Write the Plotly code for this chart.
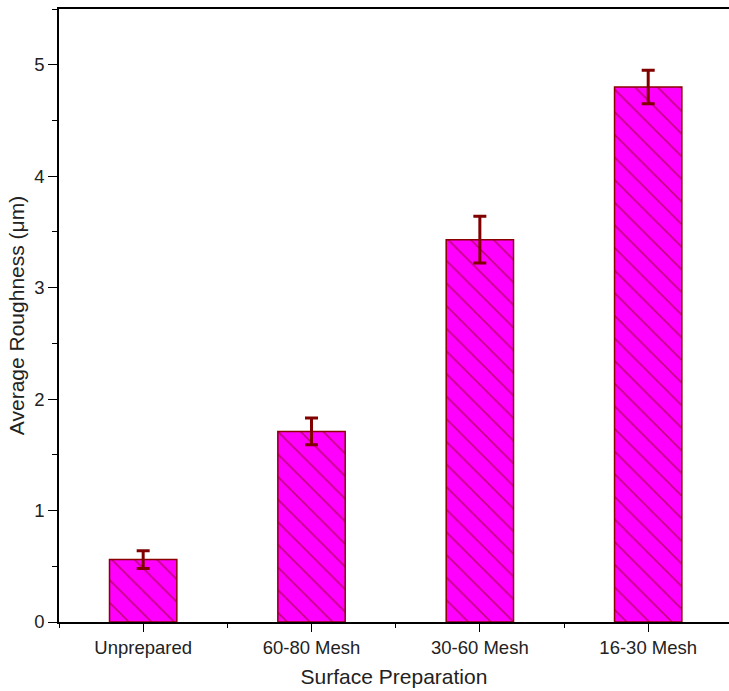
import plotly.graph_objects as go

categories = ["Unprepared", "60-80 Mesh", "30-60 Mesh", "16-30 Mesh"]
roughness = [0.56, 1.71, 3.43, 4.80]
roughness_err = [0.08, 0.12, 0.21, 0.15]

x_pos = list(range(len(categories)))

fig = go.Figure()
fig.add_trace(go.Bar(
    x=x_pos,
    y=roughness,
    width=0.4,
    marker=dict(
        color="#FF00FF",
        line=dict(color="#8B0000", width=1.5),
        pattern=dict(shape="\\", fgcolor="#8B0000", size=16, solidity=0.1),
    ),
    error_y=dict(type="data", array=roughness_err, visible=True,
                 color="#800000", thickness=3, width=6.5),
    showlegend=False,
))

font_family = "Liberation Sans, Arial, sans-serif"
fig.update_layout(
    width=729, height=691,
    margin=dict(l=59, r=0, t=9, b=69),
    plot_bgcolor="white", paper_bgcolor="white",
    font=dict(family=font_family, color="#222222"),
    xaxis=dict(
        range=[-0.5, 3.48],
        tickvals=x_pos, ticktext=categories,
        showline=True, linecolor="black", linewidth=1.5, mirror=True,
        ticks="outside", ticklen=8, tickwidth=1.2, tickcolor="black",
        minor=dict(tick0=0.5, dtick=1, ticks="outside", ticklen=4, tickcolor="black", tickwidth=1.2),
        showgrid=False, zeroline=False,
        tickfont=dict(size=18.5, family=font_family, color="#222222"),
        title=dict(text="Surface Preparation", font=dict(size=21, family=font_family, color="#222222"), standoff=12),
    ),
    yaxis=dict(
        range=[0, 5.5],
        tick0=0, dtick=1,
        showline=True, linecolor="black", linewidth=1.5, mirror=False,
        ticks="outside", ticklen=9, tickwidth=1.2, tickcolor="black",
        minor=dict(tick0=0, dtick=0.5, ticks="outside", ticklen=5, tickcolor="black", tickwidth=1.2),
        showgrid=False, zeroline=False,
        tickfont=dict(size=18.5, family=font_family, color="#222222"),
        title=dict(text="Average Roughness (\u03bcm)", font=dict(size=21, family=font_family, color="#222222"), standoff=4),
    ),
)

fig.write_html(
    "out.html",
    config={"displayModeBar": False},
    post_script="document.body.style.margin='0';document.body.style.overflow='hidden';",
)
